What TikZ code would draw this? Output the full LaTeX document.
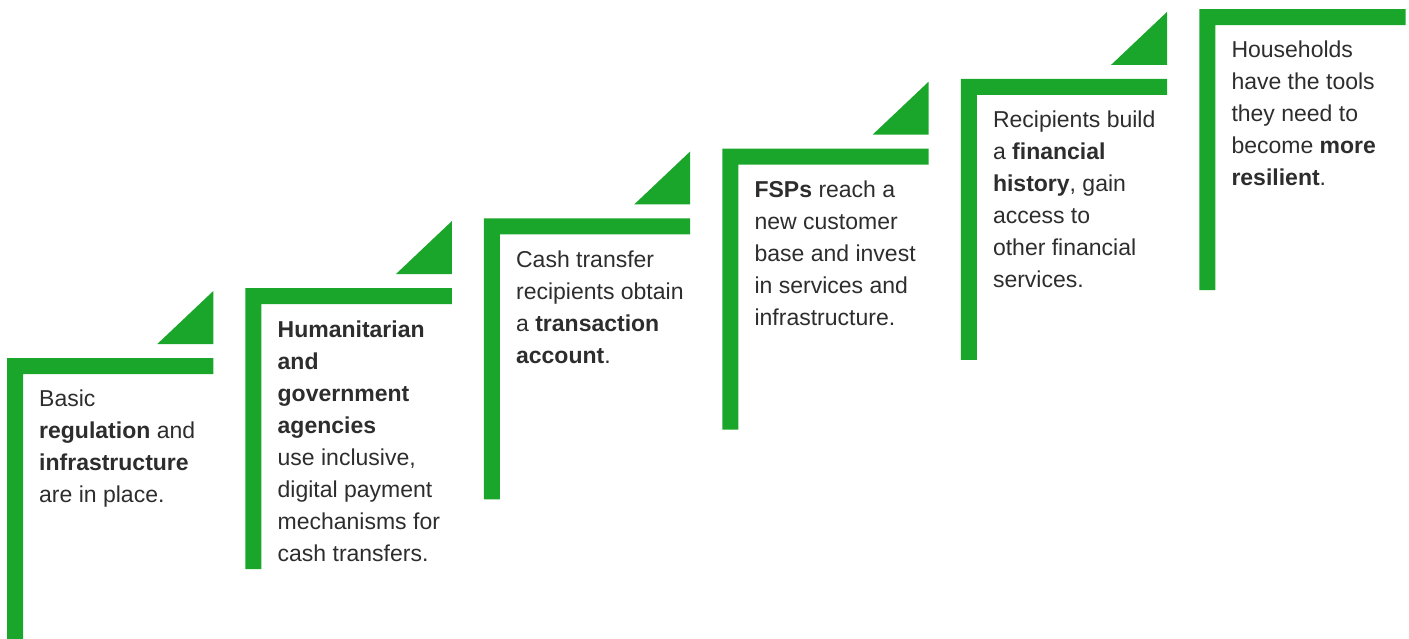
\documentclass[tikz,border=0pt]{standalone}
\usepackage{fontspec}
\setmainfont{Liberation Sans}
\definecolor{stepgreen}{RGB}{26,166,42}
\definecolor{txt}{RGB}{45,45,45}
\tikzset{
  bar/.style={fill=stepgreen, draw=none},
  tri/.style={fill=stepgreen, draw=none},
  steptext/.style={anchor=north west, inner sep=0pt, align=left, text=txt,
    font=\fontsize{23}{32}\selectfont}
}
\begin{document}
\begin{tikzpicture}[x=1pt,y=-1pt]
\useasboundingbox (0,0) rectangle (1409,638);
\foreach \i in {0,...,5}{
  \pgfmathsetmacro{\xa}{7+238.46*\i}
  \pgfmathsetmacro{\ya}{358-69.8*\i}
  \pgfmathsetmacro{\xb}{\xa+206.3}
  \pgfmathsetmacro{\yb}{\ya+281}
  % L-shaped step bar
  \fill[bar] (\xa,\ya) -- (\xb,\ya) -- (\xb,\ya+16) -- (\xa+16,\ya+16)
     -- (\xa+16,\yb) -- (\xa,\yb) -- cycle;
  % triangle
  \fill[tri] (\xb,\ya-67) -- (\xb,\ya-14) -- (\xb-56,\ya-14) -- cycle;
  \coordinate (c\i) at (\xa+32,\ya+32);
}
\node[steptext] (t0) at (c0) {Basic\\\textbf{regulation} and\\\textbf{infrastructure}\\are in place.};
\node[steptext] (t1) at (c1) {\textbf{Humanitarian}\\\textbf{and}\\\textbf{government}\\\textbf{agencies}\\use inclusive,\\digital payment\\mechanisms for\\cash transfers.};
\node[steptext] (t2) at (c2) {Cash transfer\\recipients obtain\\a \textbf{transaction}\\\textbf{account}.};
\node[steptext] (t3) at (c3) {\textbf{FSPs} reach a\\new customer\\base and invest\\in services and\\infrastructure.};
\node[steptext] (t4) at (c4) {Recipients build\\a \textbf{financial}\\\textbf{history}, gain\\access to\\other financial\\services.};
\node[steptext] (t5) at (c5) {Households\\have the tools\\they need to\\become \textbf{more}\\\textbf{resilient}.};
\end{tikzpicture}
\end{document}
